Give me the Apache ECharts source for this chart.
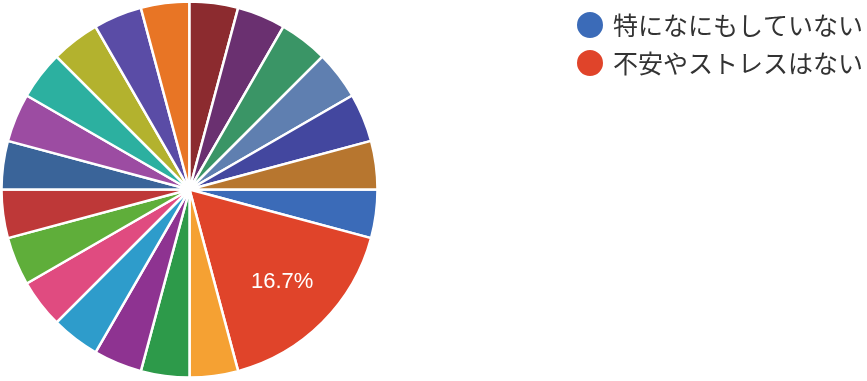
<!DOCTYPE html>
<html>
<head>
<meta charset="utf-8">
<script src="https://cdn.jsdelivr.net/npm/echarts@6/dist/echarts.min.js"></script>
<style>
html,body{margin:0;padding:0;background:#fff;}
#chart{width:867px;height:381px;}
</style>
</head>
<body>
<div id="chart"></div>
<script>
// Categories (only the first two are visible in the reference legend)
const categories = [
  "特になにもしていない", "不安やストレスはない",
  "項目3", "項目4", "項目5", "項目6", "項目7", "項目8", "項目9", "項目10",
  "項目11", "項目12", "項目13", "項目14", "項目15", "項目16", "項目17",
  "項目18", "項目19", "項目20", "項目21"
];
const values = [1, 4, 1, 1, 1, 1, 1, 1, 1, 1, 1, 1, 1, 1, 1, 1, 1, 1, 1, 1, 1];
const legendItems = ["特になにもしていない", "不安やストレスはない"];
const colors = [
  "#3b6bb8", "#e0442a", "#f5a133", "#2d9a4a", "#8e3391", "#2e9ccb",
  "#e04b80", "#5fae3a", "#be3838", "#3a6499", "#9c4ca2", "#2cb0a0",
  "#b3b22e", "#5a4ca6", "#e87525", "#8c2b2f", "#6a3070", "#3a9566",
  "#5f7fb0", "#43479f", "#b7762f"
];

const total = values.reduce((a, b) => a + b, 0);
const pieData = categories.map((c, i) => ({ name: c, value: values[i] }));
const labelData = categories.map((c, i) => ({
  name: c, value: values[i],
  label: { show: values[i] / total > 0.1 }
}));

const chart = echarts.init(document.getElementById('chart'), null, { renderer: 'canvas' });
chart.setOption({
  animation: false,
  color: colors,
  legend: {
    data: legendItems,
    orient: 'vertical',
    left: 570,
    top: 5,
    icon: 'circle',
    itemWidth: 28,
    itemHeight: 28,
    itemGap: 8,
    selectedMode: false,
    textStyle: {
      fontFamily: '"Noto Sans CJK JP", sans-serif',
      fontSize: 25,
      color: '#333333',
      padding: [0, 0, 0, 4]
    }
  },
  series: [
    {
      type: 'pie',
      center: [189.5, 189.5],
      radius: [0, 188],
      startAngle: 0,
      clockwise: true,
      silent: true,
      label: { show: false },
      labelLine: { show: false },
      itemStyle: { borderColor: '#ffffff', borderWidth: 2.5 },
      data: pieData
    },
    {
      type: 'pie',
      center: [189.5, 189.5],
      radius: [100, 156],
      startAngle: 0,
      clockwise: true,
      silent: true,
      legendHoverLink: false,
      itemStyle: { color: 'rgba(0,0,0,0)' },
      labelLine: { show: false },
      label: {
        position: 'inside',
        color: '#ffffff',
        fontSize: 22,
        fontFamily: 'Liberation Sans, Arial, sans-serif',
        formatter: p => (p.value / total * 100).toFixed(1) + '%'
      },
      data: labelData
    }
  ]
});
</script>
</body>
</html>
